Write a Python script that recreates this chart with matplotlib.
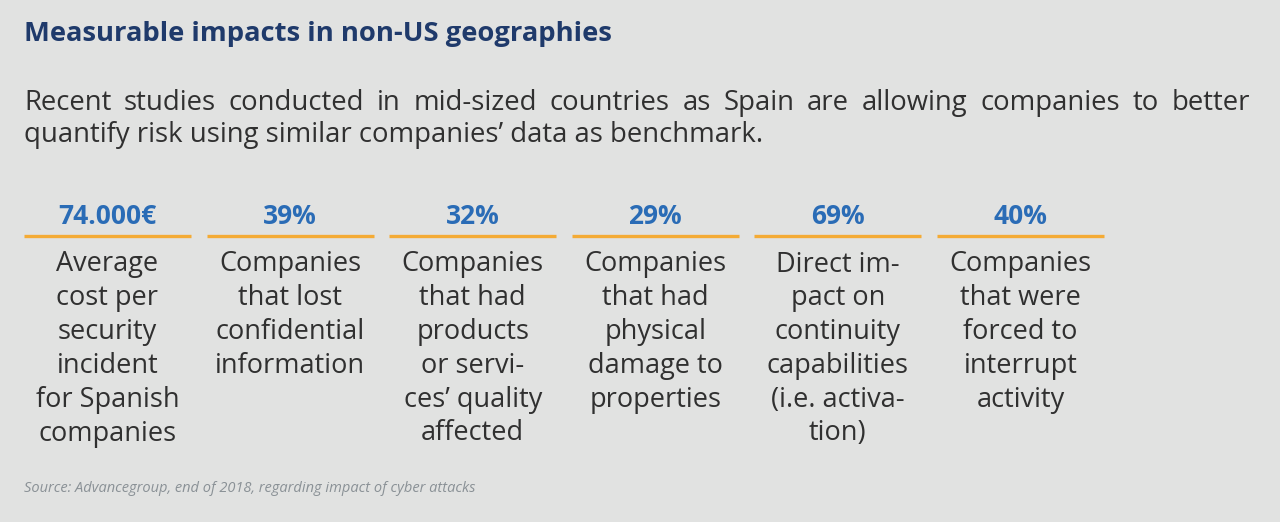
import matplotlib
matplotlib.use("Agg")
import matplotlib.pyplot as plt

# Text content
title = "Measurable impacts in non-US geographies"
intro_lines = [
    "Recent studies conducted in mid-sized countries as Spain are allowing companies to better",
    "quantify risk using similar companies\u2019 data as benchmark.",
]
values = ["74.000\u20ac", "39%", "32%", "29%", "69%", "40%"]
descriptions = [
    "Average\ncost per\nsecurity\nincident\nfor Spanish\ncompanies",
    "Companies\nthat lost\nconfidential\ninformation",
    "Companies\nthat had\nproducts\nor servi-\nces\u2019 quality\naffected",
    "Companies\nthat had\nphysical\ndamage to\nproperties",
    "Direct im-\npact on\ncontinuity\ncapabilities\n(i.e. activa-\ntion)",
    "Companies\nthat were\nforced to\ninterrupt\nactivity",
]
source = "Source: Advancegroup, end of 2018, regarding impact of cyber attacks"

BG = "#e1e2e1"
NAVY = "#1f3a6b"
BLUE = "#2a6cb6"
ORANGE = "#f4ab35"
TEXT = "#303030"
GREY = "#8a9196"

plt.rcParams["font.family"] = ["Open Sans", "DejaVu Sans"]

fig = plt.figure(figsize=(12.8, 5.22), dpi=100, facecolor=BG)
ax = fig.add_axes([0, 0, 1, 1])
ax.set_facecolor(BG)
ax.set_xlim(0, 1280)
ax.set_ylim(522, 0)
ax.axis("off")


def justify(ax, text, x0, x1, y, **kw):
    """place words so the line fills x0..x1"""
    words = text.split(" ")
    r = fig.canvas.get_renderer()
    arts = [ax.text(0, y, w, va="center", ha="left", **kw) for w in words]
    inv = ax.transData.inverted()
    widths = []
    for a in arts:
        bb = a.get_window_extent(r)
        p0 = inv.transform((bb.x0, bb.y0))
        p1 = inv.transform((bb.x1, bb.y0))
        widths.append(p1[0] - p0[0])
    gap = (x1 - x0 - sum(widths)) / (len(words) - 1)
    x = x0
    for a, w in zip(arts, widths):
        a.set_x(x)
        x += w + gap


ax.text(24, 34, title, fontsize=19.7, fontweight="bold", color=NAVY,
        va="center", ha="left")

justify(ax, intro_lines[0], 24, 1250, 103, fontsize=19.8, color=TEXT)
ax.text(24, 135, intro_lines[1], fontsize=19.8, color=TEXT, va="center", ha="left")

col_w = 167
step = 182.6
lefts = [24 + i * step for i in range(len(values))]
ax.hlines([236] * len(lefts), lefts, [l + col_w for l in lefts],
          color=ORANGE, linewidth=2.4)

for l, v, d in zip(lefts, values, descriptions):
    cx = l + col_w / 2
    ax.text(cx, 216, v, fontsize=19, fontweight="bold", color=BLUE,
            ha="center", va="center")
    for k, line in enumerate(d.split("\n")):
        ax.text(cx, 264.5 + k * 33.8, line, fontsize=19.5, color=TEXT,
                ha="center", va="center")

ax.text(24, 489, source, fontsize=10.5, style="italic", color=GREY,
        va="center", ha="left")

fig.savefig("out.png", dpi=100, facecolor=BG)
